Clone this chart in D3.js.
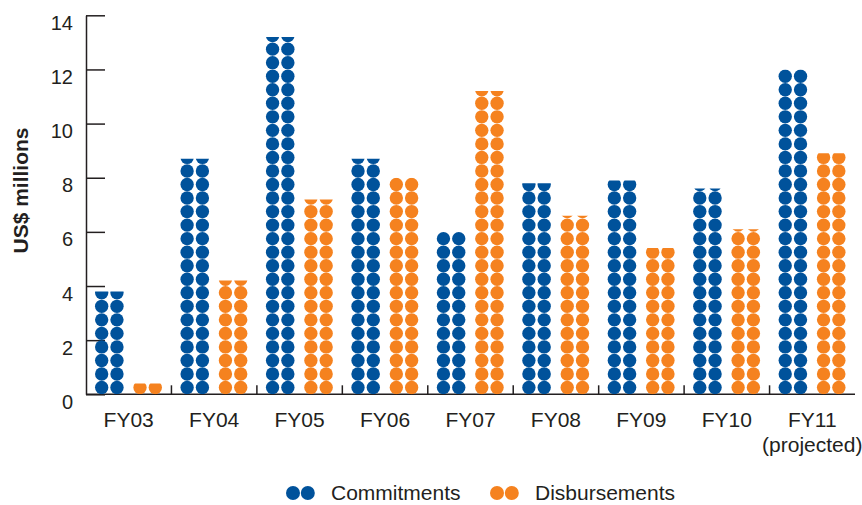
<!DOCTYPE html>
<html>
<head>
<meta charset="utf-8">
<script src="https://cdn.jsdelivr.net/npm/d3@7"></script>
<style>
    body { margin: 0; background: #fff; }
    svg text { font-family: "Liberation Sans", Arial, Helvetica, sans-serif; fill: #231f20; }
    .axis path, .axis line, .x-tick, .x-axis-line { stroke: #231f20; stroke-width: 1.5; }
    .axis text { font-size: 20px; }
    .cat-label { font-size: 21px; text-anchor: middle; }
    .axis-label { font-size: 21px; font-weight: bold; text-anchor: middle; }
    .legend text { font-size: 21px; }
</style>
</head>
<body>
<svg id="chart" width="862" height="505"></svg>
<script>
/*** DATA ***/
const years = ["FY03", "FY04", "FY05", "FY06", "FY07", "FY08", "FY09", "FY10", "FY11"];
const commitments = [3.8, 8.7, 13.2, 8.7, 6.0, 7.8, 7.9, 7.6, 12.0];
const disbursements = [0.4, 4.2, 7.2, 8.0, 11.2, 6.6, 5.4, 6.1, 8.9];
const yTicks = [0, 2, 4, 6, 8, 10, 12, 14];
const seriesNames = ["Commitments", "Disbursements"];
const seriesColors = ["#00529b", "#f5821f"];

/*** INIT VARIABLES ***/
let svg = d3.select("#chart");

let margin = {top: 15.3, right: 7, bottom: 110.7, left: 86},
    width  = 862 - margin.left - margin.right,
    height = 505 - margin.top - margin.bottom;

let x = d3.scaleBand().domain(years).range([0, width]),
    y = d3.scaleLinear().domain([0, 14]).range([height, 0]);

// each dot stands for half a unit
const step = 0.5,
      r = (y(0) - y(step / 2)) - 0.1,
      colGap = 15.3;
// centre of each series' pair of columns, as a share of the band
const seriesPos = [0.273, 0.7215];

let g = svg.append("g").attr("transform", `translate(${margin.left}, ${margin.top})`);
let defs = svg.append("defs");

/*** AXES ***/
function render_axes() {
    let ya = g.append("g")
        .classed("axis", true)
        .call(d3.axisLeft(y).tickValues(yTicks).tickSize(-19).tickSizeOuter(0).tickPadding(13));
    ya.selectAll("text").attr("dy", "0.7em");

    g.append("line")
        .classed("x-axis-line", true)
        .attr("x1", 0).attr("x2", width)
        .attr("y1", y(0)).attr("y2", y(0));

    g.selectAll("line.x-tick")
        .data(years.slice(1)).enter()
        .append("line")
        .classed("x-tick", true)
        .attr("x1", (d) => x(d)).attr("x2", (d) => x(d))
        .attr("y1", y(0)).attr("y2", y(0) - 9);

    g.selectAll("text.cat-label")
        .data(years).enter()
        .append("text")
        .classed("cat-label", true)
        .attr("x", (d) => x(d) + x.bandwidth() / 2)
        .attr("y", y(0) + 32.4)
        .text((d) => d);

    g.append("text")
        .classed("cat-label", true)
        .attr("x", x("FY11") + x.bandwidth() / 2)
        .attr("y", y(0) + 57.5)
        .text("(projected)");

    svg.append("text")
        .classed("axis-label", true)
        .attr("transform", "translate(21, 190.5) rotate(-90)")
        .attr("dy", "0.35em")
        .text("US$ millions");
}

/*** DOTS ***/
function render_bars() {
    [commitments, disbursements].forEach((vals, s) => {
        vals.forEach((v, i) => {
            let id = `clip-${s}-${i}`;
            defs.append("clipPath").attr("id", id)
                .append("rect")
                .attr("x", x(years[i]))
                .attr("width", x.bandwidth())
                .attr("y", y(v))
                .attr("height", y(0) - y(v));

            let n = Math.ceil(v / step - 1e-9),
                cx = x(years[i]) + x.bandwidth() * seriesPos[s],
                dots = [];
            for (let k = 0; k < n; k++) {
                dots.push({c: cx - colGap / 2, v: step * k + step / 2});
                dots.push({c: cx + colGap / 2, v: step * k + step / 2});
            }

            g.append("g")
                .attr("clip-path", `url(#${id})`)
                .selectAll("circle")
                .data(dots).enter()
                .append("circle")
                .attr("cx", (d) => d.c)
                .attr("cy", (d) => y(d.v))
                .attr("r", r)
                .attr("fill", seriesColors[s]);
        });
    });
}

/*** LEGEND ***/
function render_legend() {
    let legend = svg.append("g").classed("legend", true);
    let starts = [293, 497];
    seriesNames.forEach((name, s) => {
        [0, 14.8].forEach((dx) => {
            legend.append("circle")
                .attr("cx", starts[s] + dx)
                .attr("cy", 493)
                .attr("r", 7)
                .attr("fill", seriesColors[s]);
        });
        legend.append("text")
            .attr("x", starts[s] + 38)
            .attr("y", 500)
            .text(name);
    });
}

render_axes();
render_bars();
render_legend();
</script>
</body>
</html>
